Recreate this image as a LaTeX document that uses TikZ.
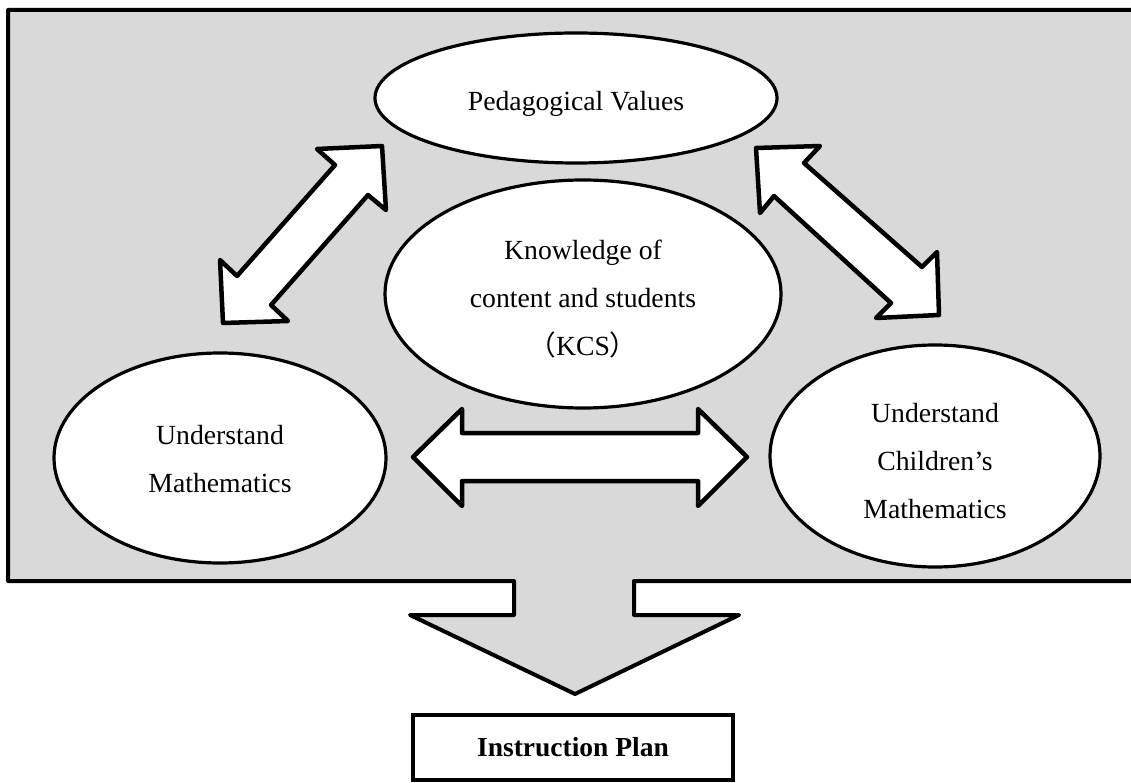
\documentclass[tikz,border=0pt]{standalone}
\usepackage{fontspec}
\setmainfont{Liberation Serif}
\newfontfamily\cjk{Noto Sans CJK SC}
\usetikzlibrary{shapes.geometric}
\definecolor{panelgray}{HTML}{D9D9D9}
\tikzset{
  idea/.style={ellipse, draw=black, line width=3.2pt, fill=white, inner sep=0pt},
  ideatext/.style={align=center, inner sep=0pt, font=\fontsize{27.7}{48}\selectfont},
  blockarrow/.style={draw=black, line width=4.5pt, fill=white, line join=round},
  panel/.style={draw=black, line width=4pt, fill=panelgray, line join=round},
  planbox/.style={rectangle, draw=black, line width=4.5pt, fill=white, inner sep=0pt,
    font=\fontsize{27.5}{33}\selectfont\bfseries}
}
\begin{document}
\begin{tikzpicture}[x=1pt,y=-1pt]
\useasboundingbox (0,0) rectangle (1131,783);

% grey panel whose lower edge opens into the downward arrow
\draw[panel] (8,10) -- (1145,10) -- (1145,581) -- (634,581) -- (634,615)
  -- (739,615) -- (575,694) -- (410,615) -- (514,615) -- (514,581)
  -- (8,581) -- cycle;

% the four ideas
\node[idea, minimum width=402pt, minimum height=130pt] (values) at (576,98) {};
\node[ideatext] (valuestext) at ([yshift=-6pt]values.center) {Pedagogical Values};

\node[idea, minimum width=396pt, minimum height=228pt] (kcs) at (583,294) {};
\node[ideatext] (kcstext) at ([yshift=-5pt]kcs.center)
  {Knowledge of\\content and students\\{\cjk （}KCS{\cjk ）}};

\node[idea, minimum width=332pt, minimum height=210pt] (math) at (220,458) {};
\node[ideatext] (mathtext) at ([yshift=-1pt]math.center) {Understand\\Mathematics};

\node[idea, minimum width=330pt, minimum height=222pt] (child) at (935,456) {};
\node[ideatext] (childtext) at ([yshift=-5pt]child.center)
  {Understand\\Children’s\\Mathematics};

% double block arrows between the ideas
\draw[blockarrow] (382,146) -- (317,149) -- (335,165) -- (237,276) -- (220,260)
  -- (223,323) -- (288,321) -- (271,305) -- (368,195) -- (386,210) -- cycle;
\draw[blockarrow] (756,148) -- (820,146) -- (804,163) -- (922,267) -- (937,252)
  -- (939,315) -- (876,318) -- (891,303) -- (774,196) -- (760,213) -- cycle;
\draw[blockarrow] (413,457) -- (462,409) -- (462,433) -- (698,433) -- (698,409)
  -- (747,457) -- (698,506) -- (698,481) -- (462,481) -- (462,506) -- cycle;

% outcome
\node[planbox, minimum width=320pt, minimum height=65pt] (plan) at (573,747.5)
  {Instruction Plan};
\end{tikzpicture}
\end{document}
